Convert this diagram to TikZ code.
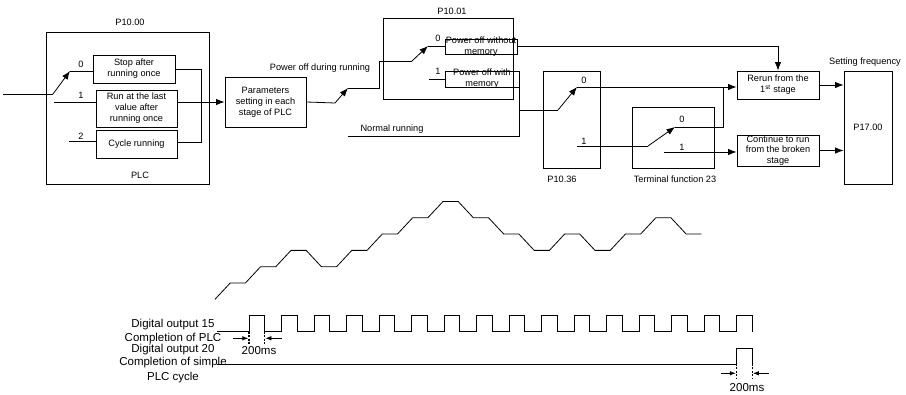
\documentclass[tikz,border=0pt]{standalone}
\usepackage{fontspec}
\setmainfont{Liberation Sans}
\usetikzlibrary{arrows.meta}

\tikzset{
	box/.style={draw, line width=0.9pt, inner sep=0pt, align=center, font=\fontsize{9.2}{11}\selectfont},
	lbl/.style={inner sep=0pt, font=\fontsize{9.2}{11}\selectfont},
	siglbl/.style={inner sep=0pt, font=\fontsize{11.5}{13}\selectfont},
	sig/.style={line width=0.8pt},
	arr/.style={-{Latex[length=8.5pt,width=6.5pt]}},
	dimarr/.style={line width=0.8pt, -{Latex[length=6pt,width=4.5pt]}},
	dimline/.style={line width=1.2pt, dash pattern=on 2pt off 1.5pt},
}

\begin{document}
\begin{tikzpicture}[x=1pt, y=-1pt]
	\useasboundingbox (0,0) rectangle (906,395);

	% P10.00 block
	\node[lbl] (t1000) at (130,22) {P10.00};
	\node[box, minimum width=163, minimum height=152] (p1000) at (127.5,108) {};
	\node[lbl] (tplc) at (140,175) {PLC};
	\node[box, minimum width=82, minimum height=28] (stop) at (134,69) {Stop after\\running once};
	\node[box, minimum width=81, minimum height=37] (lastval) at (136.5,108.5) {Run at the last\\value after\\running once};
	\node[box, minimum width=81, minimum height=28] (cycle) at (136.5,144) {Cycle running};
	\node[lbl] (n0a) at (81,64) {0};
	\node[lbl] (n1a) at (81,95) {1};
	\node[lbl] (n2a) at (81,136) {2};

	\node[box, minimum width=81, minimum height=50] (param) at (265.5,102) {Parameters\\setting in each\\stage of PLC};

	\coordinate (in0) at (3,94);
	\coordinate (sw0a) at (53,94);
	\coordinate (sw0b) at (70,71);
	\coordinate (s1) at (54,102);
	\coordinate (s2) at (69,141);
	\coordinate (br) at (201,142);
	\draw[sig] (in0) -- (sw0a);
	\draw[sig, arr] (sw0a) -- (sw0b);
	\draw[sig] (sw0b) -- (stop.west |- sw0b);
	\draw[sig] (s1) -- (lastval.west |- s1);
	\draw[sig] (s2) -- (cycle.west |- s2);
	\draw[sig] (stop.east) -| (br) -- (cycle.east |- br);
	\draw[sig, arr] (lastval.east |- param.west) -- (param.west);

	% P10.01 block
	\node[lbl] (t1001) at (452,11) {P10.01};
	\node[box, minimum width=130, minimum height=81] (p1001) at (448,58.5) {};
	\node[box, minimum width=72, minimum height=15,
		label={[lbl, align=center]center:{Power off without\\memory}}] (nomem) at (481,46.5) {};
	\node[box, minimum width=74, minimum height=16,
		label={[lbl, align=center]center:{Power off with\\memory}}] (withmem) at (482,79) {};
	\node[lbl] (n0b) at (438,38) {0};
	\node[lbl] (n1b) at (438,71) {1};
	\node[lbl] (tpoff) at (320,68) {Power off during running};
	\node[lbl] (tnorm) at (392,129) {Normal running};

	\coordinate (pa) at (335,103);
	\coordinate (pb) at (348,88);
	\coordinate (pc) at (379,61);
	\coordinate (pd) at (412,61);
	\coordinate (pe) at (428,46);
	\coordinate (w1) at (429,79);
	\coordinate (nrun) at (348,136);
	\draw[sig] (param.east) -- (pa);
	\draw[sig, arr] (pa) -- (pb);
	\draw[sig] (pb) -| (pc) -- (pd);
	\draw[sig, arr] (pd) -- (pe);
	\draw[sig] (pe) -- (nomem.west |- pe);
	\draw[sig] (w1) -- (withmem.west);
	\draw[sig] (nrun) -- (withmem.south east |- nrun) -- (withmem.south east);

	% P10.36 and terminal function 23
	\node[box, minimum width=57, minimum height=97] (p1036) at (571.5,119.5) {};
	\node[lbl] (t1036) at (562,179) {P10.36};
	\node[box, minimum width=82, minimum height=61] (term) at (673,137.5) {};
	\node[lbl] (tterm) at (675,179) {Terminal function 23};
	\node[lbl] (n0c) at (584,80) {0};
	\node[lbl] (n1c) at (584,141) {1};
	\node[lbl] (n0d) at (682,119) {0};
	\node[lbl] (n1d) at (682,147) {1};

	\node[box, minimum width=82, minimum height=28] (rerun) at (778,85) {Rerun from the\\1\textsuperscript{st} stage};
	\node[box, minimum width=82, minimum height=31, font=\fontsize{9.2}{10.3}\selectfont] (cont) at (778,150.5) {Continue to run\\from the broken\\stage};
	\node[box, minimum width=48, minimum height=113] (p1700) at (868,127.5) {P17.00};
	\node[lbl] (tfreq) at (865,62) {Setting frequency};

	\coordinate (qa) at (558,110);
	\coordinate (qb) at (577,87);
	\coordinate (ra) at (577,146);
	\coordinate (rb) at (648,146);
	\coordinate (rc) at (675,127);
	\coordinate (rd) at (723,127);
	\coordinate (rf) at (664,152);
	\draw[sig] (withmem.east |- qa) -- (qa);
	\draw[sig, arr] (qa) -- (qb);
	\draw[sig, arr] (qb) -- (rerun.west |- qb);
	\draw[sig] (ra) -- (rb);
	\draw[sig, arr] (rb) -- (rc);
	\draw[sig] (rc) -- (rd) -- (rd |- qb);
	\draw[sig, arr] (rf) -- (cont.west |- rf);
	\draw[sig, arr] (nomem.east) -| (rerun.north);
	\draw[sig, arr] (rerun.east) -- (p1700.west |- rerun.east);
	\draw[sig, arr] (cont.east) -- (p1700.west |- cont.east);

	% stepped frequency
	\draw[sig] (215,299.3) \foreach \lv [count=\i] in {1,2,3,2,3,4,5,6,5,4,3,4,3,4,5,4} {
		-- ({215+30.4*\i-15.2},{299.3-16.3*\lv}) -- ({215+30.4*\i},{299.3-16.3*\lv})
	};

	% digital outputs
	\node[siglbl] (do15) at (173,325) {Digital output 15};
	\node[siglbl] (cplc) at (173,339) {Completion of PLC};
	\node[siglbl] (do20) at (173,350) {Digital output 20};
	\node[siglbl] (csim) at (173,363) {Completion of simple};
	\node[siglbl] (ccyc) at (173,378) {PLC cycle};

	\draw[sig] (217,331.7) \foreach \k in {0,...,15} {
		-- ({249+32.5*\k},331.7) -- ++(0,-16) -- ++(15.7,0) -- ++(0,16)
	};
	\draw[sig] (217,364) -- (736.5,364) -- ++(0,-15.7) -- ++(15.7,0) -- ++(0,15.7);

	% 200ms marks
	\draw[dimline] (249,331.7) -- (249,344);
	\draw[dimline] (264.7,331.7) -- (264.7,344);
	\draw[dimarr] (233,338.3) -- (248.3,338.3);
	\draw[dimarr] (282,338.3) -- (265.4,338.3);
	\node[siglbl] (ms1) at (259,351) {200ms};
	\draw[dimline] (736.5,364) -- (736.5,379);
	\draw[dimline] (752.2,364) -- (752.2,379);
	\draw[dimarr] (721,373.3) -- (735.8,373.3);
	\draw[dimarr] (769,373.3) -- (752.9,373.3);
	\node[siglbl] (ms2) at (747,388) {200ms};
\end{tikzpicture}
\end{document}
